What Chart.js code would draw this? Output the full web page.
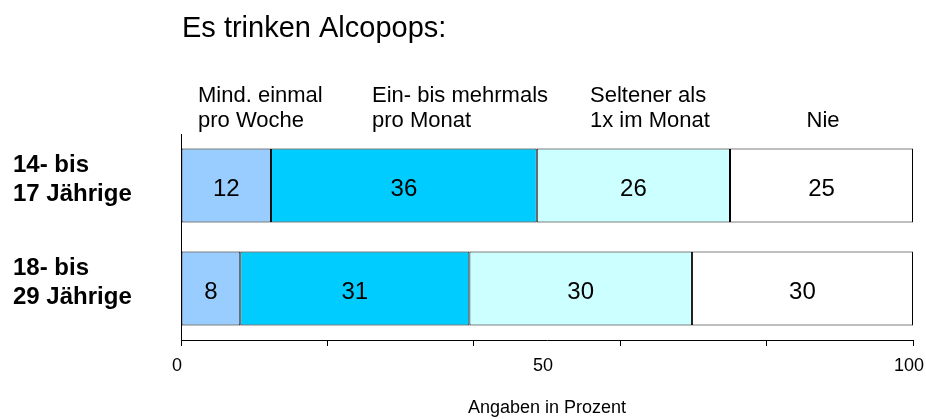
<!DOCTYPE html>
<html>
<head>
<meta charset="utf-8">
<script src="https://cdn.jsdelivr.net/npm/chart.js@4.4.0/dist/chart.umd.min.js"></script>
<style>
  html, body { margin: 0; padding: 0; background: #fff; }
</style>
</head>
<body>
<canvas id="alcopopsChart" width="926" height="419"></canvas>
<script>
// rows: age groups
var ageGroups = [['14- bis', '17 Jährige'], ['18- bis', '29 Jährige']];

// answer categories (one stacked series each)
var answerNames = ['Mind. einmal pro Woche', 'Ein- bis mehrmals pro Monat', 'Seltener als 1x im Monat', 'Nie'];
var weekly  = [12.3, 8.1];
var monthly = [36.3, 31.3];
var rarely  = [26.4, 30.4];
var never   = [25.0, 30.2];

// x axis: tick marks every 20, labels only at 0 / 50 / 100
var xTickValues = [0, 20, 40, 50, 60, 80, 100];
var xTickLabels = [0, 50, 100];

var fontFamily = "'Liberation Sans', Arial, sans-serif";
Chart.defaults.font.family = fontFamily;
Chart.defaults.color = '#000';

//Plugin that writes the numbers inside every segment
var segmentLabels = {
    id: 'segmentLabels',
    afterDatasetsDraw: function(chart) {
        var ctx = chart.ctx;
        ctx.save();
        ctx.font = '24px ' + fontFamily;
        ctx.fillStyle = '#000';
        ctx.textAlign = 'center';
        ctx.textBaseline = 'middle';
        chart.data.datasets.forEach(function(ds, i) {
            chart.getDatasetMeta(i).data.forEach(function(bar, j) {
                ctx.fillText(Math.round(ds.data[j]), (bar.x + bar.base) / 2, bar.y + 4);
            });
        });
        ctx.restore();
    }
};

//Plugin for the title and the column headers above the bars
var headerText = {
    id: 'headerText',
    afterDraw: function(chart) {
        var ctx = chart.ctx;
        ctx.save();
        ctx.fillStyle = '#000';
        ctx.textBaseline = 'alphabetic';

        ctx.font = '29px ' + fontFamily;
        ctx.textAlign = 'left';
        ctx.fillText('Es trinken Alcopops:', 182, 37);

        ctx.font = '22px ' + fontFamily;
        ctx.fillText('Mind. einmal', 198, 102);
        ctx.fillText('pro Woche', 198, 127);
        ctx.fillText('Ein- bis mehrmals', 372, 102);
        ctx.fillText('pro Monat', 372, 127);
        ctx.fillText('Seltener als', 590, 102);
        ctx.fillText('1x im Monat', 590, 127);
        ctx.textAlign = 'center';
        ctx.fillText('Nie', 823, 127);
        ctx.restore();
    }
};

var ctx = document.getElementById('alcopopsChart').getContext('2d');
var alcopopsChart = new Chart(ctx, {
    type: 'bar',
    data: {
        labels: ageGroups,
        datasets: [
            { label: answerNames[0], data: weekly,  backgroundColor: '#99CCFF' },
            { label: answerNames[1], data: monthly, backgroundColor: '#00CCFF' },
            { label: answerNames[2], data: rarely,  backgroundColor: '#CCFFFF' },
            { label: answerNames[3], data: never,   backgroundColor: '#FFFFFF' }
        ]
    },
    options: {
        indexAxis: 'y',
        responsive: false,
        animation: false,
        datasets: {
            bar: {
                borderColor: '#000',
                borderWidth: 1,
                borderSkipped: false,
                barPercentage: 0.72,
                categoryPercentage: 1
            }
        },
        layout: {
            padding: { top: 134, left: 13, right: 13, bottom: 0 }
        },
        plugins: {
            legend: { display: false },
            tooltip: { enabled: false }
        },
        scales: {
            x: {
                stacked: true,
                min: 0,
                max: 100,
                afterBuildTicks: function(scale) {
                    scale.ticks = xTickValues.map(function(v) { return { value: v }; });
                },
                afterFit: function(scale) {
                    scale.height = 79;
                    // let the "100" hang over the edge like in the original
                    scale.paddingLeft = 0;
                    scale.paddingRight = 0;
                },
                ticks: {
                    autoSkip: false,
                    maxRotation: 0,
                    padding: 9,
                    labelOffset: -4,
                    font: { size: 18 },
                    callback: function(value) {
                        return xTickLabels.indexOf(value) >= 0 ? value : '';
                    }
                },
                grid: {
                    drawOnChartArea: false,
                    drawTicks: true,
                    tickLength: 6,
                    tickColor: function(c) {
                        return (c.tick && c.tick.value === 50) ? 'rgba(0,0,0,0)' : '#000';
                    }
                },
                border: { display: true, color: '#000', width: 1 },
                title: {
                    display: true,
                    text: 'Angaben in Prozent',
                    font: { size: 18 },
                    padding: { top: 0, bottom: 0 }
                }
            },
            y: {
                stacked: true,
                afterFit: function(scale) {
                    scale.width = 168;
                },
                ticks: {
                    crossAlign: 'far',
                    labelOffset: -6,
                    font: { size: 24, weight: 'bold' }
                },
                grid: { display: false },
                border: { display: true, color: '#000', width: 1 }
            }
        }
    },
    plugins: [segmentLabels, headerText]
});
</script>
</body>
</html>
